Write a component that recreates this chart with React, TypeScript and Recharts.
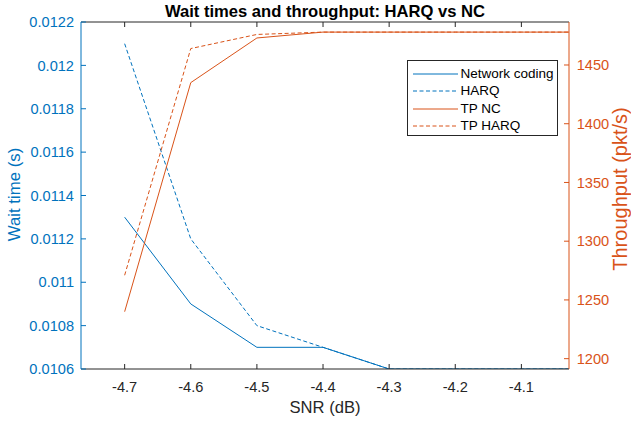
import React from 'react';
import { LineChart, Line, XAxis, YAxis, Legend } from 'recharts';

// SNR sweep (dB)
const snr = [-4.7, -4.6, -4.5, -4.4, -4.3, -4.2, -4.1, -4.0];

// wait times (s)
const waitNc = [0.0113, 0.0109, 0.0107, 0.0107, 0.0106, 0.0106, 0.0106, 0.0106];
const waitHarq = [0.0121, 0.0112, 0.0108, 0.0107, 0.0106, 0.0106, 0.0106, 0.0106];

// throughput (pkt/s)
const tpNc = [1240, 1435, 1473, 1478, 1478, 1478, 1478, 1478];
const tpHarq = [1271, 1464, 1476, 1478, 1478, 1478, 1478, 1478];

const snrTicks = [-4.7, -4.6, -4.5, -4.4, -4.3, -4.2, -4.1];
const waitTicks = [0.0106, 0.0108, 0.011, 0.0112, 0.0114, 0.0116, 0.0118, 0.012, 0.0122];
const tpTicks = [1200, 1250, 1300, 1350, 1400, 1450];

const data = snr.map((s, i) => ({
  snr: s,
  waitNc: waitNc[i],
  waitHarq: waitHarq[i],
  tpNc: tpNc[i],
  tpHarq: tpHarq[i],
}));

const BLUE = '#0072BD';
const ORANGE = '#D95319';
const AXIS = '#262626';
const FONT = '"Liberation Sans", Arial, Helvetica, sans-serif';
const DASH = '4 2.5';

const series = [
  { key: 'waitNc', name: 'Network coding', color: BLUE, dash: undefined, axis: 'left' },
  { key: 'waitHarq', name: 'HARQ', color: BLUE, dash: DASH, axis: 'left' },
  { key: 'tpNc', name: 'TP NC', color: ORANGE, dash: undefined, axis: 'right' },
  { key: 'tpHarq', name: 'TP HARQ', color: ORANGE, dash: DASH, axis: 'right' },
];

function LegendBox() {
  return (
    <div
      style={{
        boxSizing: 'border-box',
        width: 151,
        height: 76,
        border: `1px solid ${AXIS}`,
        background: '#fff',
        padding: '4px 0 0 4px',
        fontFamily: FONT,
        fontSize: 13.5,
        lineHeight: '18px',
        color: '#000',
        whiteSpace: 'nowrap',
      }}
    >
      {series.map((s) => (
        <div key={s.key} style={{ display: 'flex', alignItems: 'center', height: 17.5 }}>
          <svg width={46} height={18} style={{ marginRight: 3, flex: 'none' }}>
            <line x1={1} x2={46} y1={9} y2={9} stroke={s.color} strokeWidth={1} strokeDasharray={s.dash} />
          </svg>
          <span>{s.name}</span>
        </div>
      ))}
    </div>
  );
}

const emptyTick = () => <g />;

export default function App() {
  return (
    <div style={{ width: 631, height: 423, background: '#fff', position: 'relative' }}>
      <style>{'body{margin:0}'}</style>
      <LineChart width={631} height={423} data={data} margin={{ top: 21, right: 0, bottom: 0, left: 0 }}>
        <XAxis
          dataKey="snr"
          type="number"
          domain={[-4.766, -4.028]}
          allowDataOverflow
          ticks={snrTicks}
          tickFormatter={(v: number) => v.toFixed(1)}
          height={54}
          stroke={AXIS}
          tickSize={-5}
          tickMargin={17.5}
          tick={{ fill: AXIS, fontSize: 14.6, fontFamily: FONT }}
          label={{
            content: () => (
              <text x={325} y={413} textAnchor="middle" fill={AXIS} fontSize={16.6} fontFamily={FONT}>
                SNR (dB)
              </text>
            ),
          }}
        />
        <XAxis
          xAxisId="top"
          dataKey="snr"
          orientation="top"
          type="number"
          domain={[-4.766, -4.028]}
          allowDataOverflow
          ticks={snrTicks}
          height={1}
          stroke={AXIS}
          tickSize={-5}
          tick={emptyTick}
          label={{
            content: () => (
              <text x={325} y={17} textAnchor="middle" fill="#000" fontSize={16.6} fontWeight="bold" fontFamily={FONT}>
                Wait times and throughput: HARQ vs NC
              </text>
            ),
          }}
        />
        <YAxis
          yAxisId="left"
          orientation="left"
          type="number"
          domain={[0.0106, 0.0122]}
          allowDataOverflow
          ticks={waitTicks}
          tickFormatter={(v: number) => String(Number(v.toFixed(4)))}
          width={81}
          stroke={BLUE}
          tickSize={-5}
          tickMargin={12}
          tick={{ fill: BLUE, fontSize: 14.6, fontFamily: FONT }}
          label={{
            content: () => (
              <text
                x={19.5}
                y={194.5}
                transform="rotate(-90 19.5 194.5)"
                textAnchor="middle"
                fill={BLUE}
                fontSize={16.8}
                fontFamily={FONT}
              >
                Wait time (s)
              </text>
            ),
          }}
        />
        <YAxis
          yAxisId="right"
          orientation="right"
          type="number"
          domain={[1191.2, 1486.6]}
          allowDataOverflow
          ticks={tpTicks}
          width={62}
          stroke={ORANGE}
          tickSize={-5}
          tickMargin={12.7}
          tick={{ fill: ORANGE, fontSize: 14.6, fontFamily: FONT }}
          label={{
            content: () => (
              <text
                x={627}
                y={189}
                transform="rotate(-90 627 189)"
                textAnchor="middle"
                fill={ORANGE}
                fontSize={20}
                fontFamily={FONT}
              >
                Throughput (pkt/s)
              </text>
            ),
          }}
        />
        <Legend
          layout="vertical"
          align="center"
          verticalAlign="middle"
          wrapperStyle={{ position: 'absolute', left: 406.5, top: 60, width: 151 }}
          content={() => <LegendBox />}
        />
        {series.map((s) => (
          <Line
            key={s.key}
            yAxisId={s.axis}
            dataKey={s.key}
            name={s.name}
            type="linear"
            stroke={s.color}
            strokeWidth={1}
            strokeDasharray={s.dash}
            dot={false}
            activeDot={false}
            isAnimationActive={false}
          />
        ))}
      </LineChart>
    </div>
  );
}
